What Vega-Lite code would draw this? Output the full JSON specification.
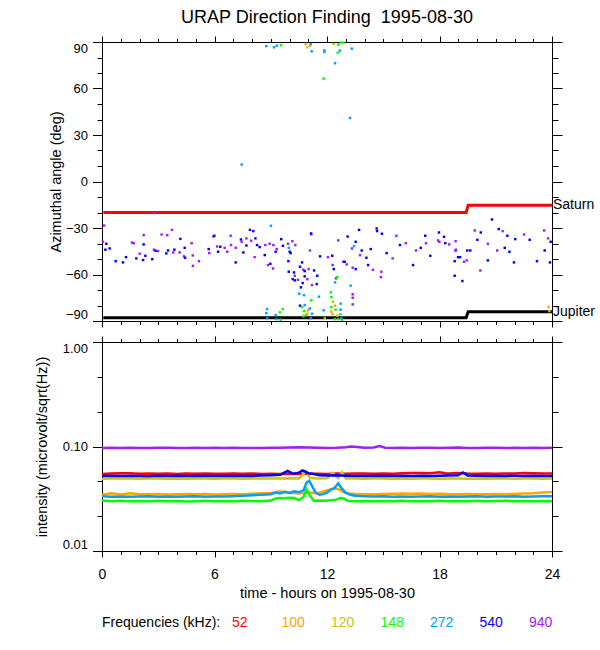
{
"$schema": "https://vega.github.io/schema/vega-lite/v6.json",
"background": "white",
"padding": {"left": 33, "top": 9, "right": 5, "bottom": 5},
"title": {"text": "URAP Direction Finding\u00a0\u00a01995-08-30", "fontSize": 18, "fontWeight": "normal", "font": "Liberation Sans", "color": "black", "anchor": "middle", "frame": "group", "offset": 8},
"bounds": "flush",
"spacing": 21,
"datasets": {
"planets": [
{"p":"Saturn","t":0.07,"a":-20.0},{"p":"Saturn","t":19.42,"a":-20.0},{"p":"Saturn","t":19.53,"a":-15.3},{"p":"Saturn","t":24,"a":-15.3},
{"p":"Jupiter","t":0.07,"a":-87.9},{"p":"Jupiter","t":19.42,"a":-87.9},{"p":"Jupiter","t":19.53,"a":-84.0},{"p":"Jupiter","t":24,"a":-84.0}
],
"points": [
{"t":8.76,"a":87.4,"f":"272"},{"t":9.17,"a":86.6,"f":"272"},{"t":9.32,"a":87.6,"f":"272"},{"t":9.55,"a":87.9,"f":"148"},
{"t":10.86,"a":88.7,"f":"100"},{"t":10.95,"a":86.6,"f":"120"},{"t":11.09,"a":87.6,"f":"100"},{"t":11.13,"a":88.7,"f":"272"},
{"t":11.18,"a":84.0,"f":"272"},{"t":11.86,"a":84.6,"f":"272"},{"t":11.86,"a":83.6,"f":"272"},{"t":12.36,"a":88.7,"f":"120"},
{"t":12.6,"a":88.3,"f":"148"},{"t":12.73,"a":89.6,"f":"148"},{"t":12.87,"a":89.6,"f":"148"},{"t":12.68,"a":84.4,"f":"272"},
{"t":12.57,"a":83.1,"f":"148"},{"t":13.32,"a":85.7,"f":"272"},{"t":12.43,"a":76.3,"f":"272"},{"t":11.82,"a":66.4,"f":"148"},
{"t":13.23,"a":41.0,"f":"272"},{"t":7.45,"a":10.9,"f":"272"},{"t":2.81,"a":-20.3,"f":"940"},
{"t":0.11,"a":-28.4,"f":"940"},{"t":0.05,"a":-38.9,"f":"940"},{"t":0.23,"a":-40.2,"f":"540"},{"t":0.18,"a":-44.0,"f":"540"},
{"t":0.41,"a":-43.2,"f":"540"},{"t":0.73,"a":-51.4,"f":"540"},{"t":1.12,"a":-52.2,"f":"540"},{"t":1.28,"a":-48.8,"f":"540"},
{"t":1.69,"a":-39.8,"f":"940"},{"t":1.6,"a":-39.4,"f":"940"},{"t":2.01,"a":-46.6,"f":"940"},{"t":1.83,"a":-49.6,"f":"540"},
{"t":2.22,"a":-34.6,"f":"940"},{"t":2.22,"a":-40.6,"f":"540"},{"t":2.19,"a":-50.7,"f":"540"},{"t":2.31,"a":-47.9,"f":"540"},
{"t":2.68,"a":-50.1,"f":"540"},{"t":2.77,"a":-44.0,"f":"940"},{"t":2.86,"a":-44.7,"f":"540"},{"t":2.99,"a":-44.9,"f":"940"},
{"t":3.18,"a":-34.2,"f":"940"},{"t":3.48,"a":-34.6,"f":"940"},{"t":3.52,"a":-44.5,"f":"540"},{"t":3.43,"a":-46.4,"f":"540"},
{"t":3.73,"a":-31.2,"f":"940"},{"t":3.8,"a":-45.8,"f":"940"},{"t":3.86,"a":-44.0,"f":"540"},{"t":4.14,"a":-45.8,"f":"940"},
{"t":4.18,"a":-37.0,"f":"540"},{"t":4.37,"a":-48.3,"f":"940"},{"t":4.43,"a":-49.2,"f":"540"},{"t":4.41,"a":-42.8,"f":"540"},
{"t":4.78,"a":-39.8,"f":"940"},{"t":4.84,"a":-47.7,"f":"940"},{"t":4.85,"a":-54.4,"f":"940"},{"t":5.17,"a":-51.4,"f":"940"},
{"t":5.69,"a":-43.6,"f":"540"},{"t":5.72,"a":-46.2,"f":"940"},{"t":6.19,"a":-45.3,"f":"540"},{"t":5.94,"a":-35.5,"f":"940"},
{"t":5.99,"a":-35.0,"f":"540"},{"t":6.14,"a":-41.9,"f":"940"},{"t":6.31,"a":-42.1,"f":"540"},{"t":6.54,"a":-42.8,"f":"940"},
{"t":6.68,"a":-45.3,"f":"940"},{"t":6.86,"a":-35.0,"f":"940"},{"t":6.88,"a":-41.0,"f":"940"},{"t":7.13,"a":-52.2,"f":"540"},
{"t":7.13,"a":-42.8,"f":"940"},{"t":7.41,"a":-37.4,"f":"540"},{"t":7.45,"a":-38.9,"f":"940"},{"t":7.54,"a":-45.8,"f":"540"},
{"t":7.7,"a":-36.7,"f":"940"},{"t":7.7,"a":-41.3,"f":"540"},{"t":7.96,"a":-38.2,"f":"940"},{"t":8.14,"a":-48.8,"f":"940"},
{"t":8.18,"a":-36.7,"f":"540"},{"t":7.89,"a":-31.2,"f":"540"},{"t":8.07,"a":-32.0,"f":"540"},{"t":8.27,"a":-41.0,"f":"540"},
{"t":8.41,"a":-42.3,"f":"540"},{"t":8.71,"a":-41.0,"f":"940"},{"t":8.68,"a":-47.5,"f":"540"},{"t":8.85,"a":-53.9,"f":"940"},
{"t":8.94,"a":-40.2,"f":"940"},{"t":8.98,"a":-53.1,"f":"540"},{"t":9.12,"a":-56.1,"f":"940"},{"t":9.14,"a":-41.0,"f":"940"},
{"t":9.26,"a":-45.3,"f":"540"},{"t":9.32,"a":-43.6,"f":"940"},{"t":9.56,"a":-37.2,"f":"540"},{"t":9.65,"a":-41.5,"f":"540"},
{"t":9.01,"a":-28.6,"f":"272"},{"t":9.92,"a":-40.2,"f":"940"},{"t":9.96,"a":-42.8,"f":"272"},{"t":10.01,"a":-45.3,"f":"540"},
{"t":10.06,"a":-46.2,"f":"540"},{"t":9.94,"a":-51.4,"f":"540"},{"t":9.96,"a":-58.2,"f":"540"},{"t":10.15,"a":-38.5,"f":"940"},
{"t":10.31,"a":-41.0,"f":"940"},{"t":10.24,"a":-58.7,"f":"540"},{"t":10.28,"a":-63.8,"f":"540"},{"t":10.17,"a":-63.0,"f":"540"},
{"t":10.28,"a":-60.8,"f":"940"},{"t":10.45,"a":-63.4,"f":"940"},{"t":10.56,"a":-55.0,"f":"540"},{"t":10.67,"a":-52.2,"f":"540"},
{"t":10.74,"a":-56.9,"f":"940"},{"t":10.81,"a":-57.8,"f":"540"},{"t":11.02,"a":-56.5,"f":"940"},{"t":10.81,"a":-61.2,"f":"540"},
{"t":10.61,"a":-68.3,"f":"540"},{"t":10.7,"a":-65.5,"f":"540"},{"t":11.16,"a":-34.0,"f":"940"},{"t":11.15,"a":-33.5,"f":"540"},
{"t":11.09,"a":-44.5,"f":"940"},{"t":11.31,"a":-57.4,"f":"540"},{"t":11.48,"a":-60.8,"f":"540"},{"t":11.45,"a":-66.2,"f":"540"},
{"t":11.2,"a":-66.8,"f":"940"},{"t":10.95,"a":-63.0,"f":"940"},{"t":11.63,"a":-48.3,"f":"540"},{"t":12.05,"a":-48.8,"f":"940"},
{"t":12.28,"a":-47.9,"f":"540"},{"t":12.3,"a":-53.9,"f":"940"},{"t":12.36,"a":-56.5,"f":"540"},{"t":12.48,"a":-62.5,"f":"940"},
{"t":12.55,"a":-61.7,"f":"148"},{"t":12.43,"a":-65.1,"f":"272"},{"t":12.6,"a":-38.0,"f":"940"},{"t":12.87,"a":-51.8,"f":"940"},
{"t":12.94,"a":-51.8,"f":"540"},{"t":13.05,"a":-53.5,"f":"940"},{"t":13.1,"a":-35.5,"f":"540"},{"t":13.33,"a":-43.2,"f":"940"},
{"t":13.37,"a":-55.6,"f":"940"},{"t":13.44,"a":-41.7,"f":"272"},{"t":13.53,"a":-56.5,"f":"540"},{"t":13.53,"a":-38.9,"f":"540"},
{"t":13.26,"a":-67.2,"f":"272"},{"t":13.37,"a":-72.8,"f":"940"},{"t":13.37,"a":-75.0,"f":"940"},{"t":13.37,"a":-79.3,"f":"940"},
{"t":13.71,"a":-31.2,"f":"540"},{"t":13.76,"a":-47.5,"f":"940"},{"t":13.85,"a":-44.5,"f":"540"},{"t":14.1,"a":-49.2,"f":"540"},
{"t":14.19,"a":-53.9,"f":"540"},{"t":14.33,"a":-43.6,"f":"540"},{"t":14.65,"a":-30.3,"f":"540"},{"t":14.67,"a":-32.0,"f":"540"},
{"t":14.45,"a":-57.0,"f":"940"},{"t":14.9,"a":-58.2,"f":"940"},{"t":14.88,"a":-61.7,"f":"940"},{"t":14.93,"a":-33.7,"f":"540"},
{"t":15.18,"a":-46.2,"f":"540"},{"t":15.5,"a":-49.6,"f":"940"},{"t":15.7,"a":-35.0,"f":"940"},{"t":15.89,"a":-41.0,"f":"540"},
{"t":16.2,"a":-39.8,"f":"940"},{"t":16.59,"a":-53.9,"f":"540"},{"t":16.75,"a":-44.5,"f":"940"},{"t":17.0,"a":-42.8,"f":"540"},
{"t":17.28,"a":-39.8,"f":"940"},{"t":17.24,"a":-35.0,"f":"540"},{"t":17.51,"a":-47.9,"f":"540"},{"t":17.92,"a":-38.0,"f":"940"},
{"t":17.97,"a":-32.9,"f":"540"},{"t":17.99,"a":-38.9,"f":"940"},{"t":18.24,"a":-35.7,"f":"540"},{"t":18.31,"a":-39.8,"f":"540"},
{"t":18.52,"a":-40.6,"f":"940"},{"t":18.81,"a":-51.4,"f":"540"},{"t":18.81,"a":-60.8,"f":"540"},{"t":18.86,"a":-44.5,"f":"540"},
{"t":18.86,"a":-38.5,"f":"940"},{"t":18.88,"a":-44.0,"f":"940"},{"t":18.99,"a":-48.8,"f":"540"},{"t":19.1,"a":-48.8,"f":"540"},
{"t":19.22,"a":-64.2,"f":"540"},{"t":19.31,"a":-51.8,"f":"940"},{"t":19.45,"a":-50.9,"f":"940"},{"t":19.48,"a":-44.5,"f":"540"},
{"t":19.64,"a":-44.5,"f":"540"},{"t":19.88,"a":-31.6,"f":"940"},{"t":20.02,"a":-37.6,"f":"540"},{"t":20.18,"a":-57.4,"f":"940"},
{"t":20.58,"a":-40.2,"f":"940"},{"t":20.8,"a":-24.5,"f":"540"},{"t":20.2,"a":-32.9,"f":"540"},{"t":20.58,"a":-50.9,"f":"540"},
{"t":21.37,"a":-32.0,"f":"940"},{"t":21.16,"a":-30.7,"f":"540"},{"t":21.62,"a":-35.0,"f":"540"},{"t":21.08,"a":-44.5,"f":"940"},
{"t":21.48,"a":-42.8,"f":"540"},{"t":21.73,"a":-45.3,"f":"540"},{"t":21.97,"a":-52.2,"f":"540"},{"t":22.04,"a":-37.2,"f":"540"},
{"t":22.51,"a":-34.2,"f":"940"},{"t":22.81,"a":-37.6,"f":"540"},{"t":23.2,"a":-51.4,"f":"540"},{"t":23.58,"a":-31.6,"f":"940"},
{"t":23.61,"a":-44.5,"f":"540"},{"t":23.79,"a":-36.7,"f":"940"},{"t":23.93,"a":-38.9,"f":"540"},{"t":23.89,"a":-52.2,"f":"540"},
{"t":8.8,"a":-82.3,"f":"272"},{"t":9.64,"a":-82.3,"f":"148"},{"t":9.49,"a":-84.4,"f":"148"},{"t":8.76,"a":-84.9,"f":"272"},
{"t":9.26,"a":-86.2,"f":"272"},{"t":9.3,"a":-88.8,"f":"272"},{"t":8.82,"a":-88.3,"f":"272"},{"t":9.53,"a":-89.2,"f":"148"},
{"t":10.52,"a":-72.4,"f":"272"},{"t":10.56,"a":-80.1,"f":"540"},{"t":10.77,"a":-73.3,"f":"272"},{"t":10.81,"a":-79.7,"f":"272"},
{"t":10.67,"a":-81.0,"f":"148"},{"t":10.77,"a":-83.6,"f":"148"},{"t":10.99,"a":-83.1,"f":"100"},{"t":11.08,"a":-81.9,"f":"272"},
{"t":11.2,"a":-85.3,"f":"272"},{"t":10.88,"a":-86.2,"f":"148"},{"t":10.74,"a":-87.0,"f":"148"},{"t":10.95,"a":-85.3,"f":"100"},
{"t":11.13,"a":-88.3,"f":"272"},{"t":11.16,"a":-76.7,"f":"148"},{"t":11.57,"a":-74.3,"f":"272"},{"t":11.82,"a":-83.1,"f":"272"},
{"t":12.2,"a":-71.5,"f":"148"},{"t":12.23,"a":-74.6,"f":"148"},{"t":12.32,"a":-77.6,"f":"120"},{"t":12.43,"a":-80.1,"f":"100"},
{"t":12.23,"a":-81.0,"f":"148"},{"t":12.46,"a":-82.7,"f":"148"},{"t":12.73,"a":-78.8,"f":"272"},{"t":12.73,"a":-82.7,"f":"272"},
{"t":12.23,"a":-84.0,"f":"100"},{"t":12.3,"a":-85.7,"f":"100"},{"t":12.71,"a":-85.7,"f":"148"},{"t":12.59,"a":-88.8,"f":"148"},
{"t":12.55,"a":-86.6,"f":"100"},{"t":12.8,"a":-89.2,"f":"148"},{"t":12.76,"a":-88.3,"f":"272"},{"t":11.88,"a":-88.3,"f":"120"},
{"t":12.41,"a":-88.8,"f":"148"},{"t":23.82,"a":-81.0,"f":"100"},{"t":23.86,"a":-83.6,"f":"100"}
],
"lines": [
{"f":"52","t":0,"v":0.0545},{"f":"52","t":0.5,"v":0.0552},{"f":"52","t":1,"v":0.0556},{"f":"52","t":1.5,"v":0.0554},{"f":"52","t":2,"v":0.055},{"f":"52","t":2.5,"v":0.0553},{"f":"52","t":3,"v":0.0548},{"f":"52","t":3.5,"v":0.0551},{"f":"52","t":4,"v":0.0547},{"f":"52","t":4.5,"v":0.0552},{"f":"52","t":5,"v":0.0549},{"f":"52","t":5.5,"v":0.0553},{"f":"52","t":6,"v":0.055},{"f":"52","t":6.5,"v":0.0548},{"f":"52","t":7,"v":0.0552},{"f":"52","t":7.5,"v":0.0549},{"f":"52","t":8,"v":0.0551},{"f":"52","t":8.5,"v":0.0547},{"f":"52","t":9,"v":0.055},{"f":"52","t":9.5,"v":0.0546},{"f":"52","t":10,"v":0.0549},{"f":"52","t":10.5,"v":0.0545},{"f":"52","t":11,"v":0.0548},{"f":"52","t":11.5,"v":0.055},{"f":"52","t":12,"v":0.0547},{"f":"52","t":12.5,"v":0.0551},{"f":"52","t":13,"v":0.0549},{"f":"52","t":13.5,"v":0.0553},{"f":"52","t":14,"v":0.0551},{"f":"52","t":14.5,"v":0.0548},{"f":"52","t":15,"v":0.0552},{"f":"52","t":15.5,"v":0.055},{"f":"52","t":16,"v":0.0554},{"f":"52","t":16.5,"v":0.0557},{"f":"52","t":17,"v":0.0559},{"f":"52","t":17.5,"v":0.0555},{"f":"52","t":18,"v":0.0568},{"f":"52","t":18.3,"v":0.0556},{"f":"52","t":18.5,"v":0.0553},{"f":"52","t":19,"v":0.0557},{"f":"52","t":19.5,"v":0.0552},{"f":"52","t":20,"v":0.055},{"f":"52","t":20.5,"v":0.0553},{"f":"52","t":21,"v":0.0549},{"f":"52","t":21.5,"v":0.0552},{"f":"52","t":22,"v":0.0551},{"f":"52","t":22.5,"v":0.0558},{"f":"52","t":23,"v":0.0556},{"f":"52","t":23.5,"v":0.0553},{"f":"52","t":24,"v":0.0552},
{"f":"100","t":0,"v":0.0345},{"f":"100","t":0.5,"v":0.0356},{"f":"100","t":1,"v":0.0348},{"f":"100","t":1.5,"v":0.0357},{"f":"100","t":2,"v":0.035},{"f":"100","t":2.5,"v":0.0349},{"f":"100","t":3,"v":0.0351},{"f":"100","t":3.5,"v":0.0348},{"f":"100","t":4,"v":0.035},{"f":"100","t":4.5,"v":0.0352},{"f":"100","t":5,"v":0.0349},{"f":"100","t":5.5,"v":0.0351},{"f":"100","t":6,"v":0.0348},{"f":"100","t":6.5,"v":0.035},{"f":"100","t":7,"v":0.0352},{"f":"100","t":7.5,"v":0.0349},{"f":"100","t":8,"v":0.0353},{"f":"100","t":8.5,"v":0.0356},{"f":"100","t":9,"v":0.0358},{"f":"100","t":9.5,"v":0.0372},{"f":"100","t":10,"v":0.036},{"f":"100","t":10.5,"v":0.0355},{"f":"100","t":11,"v":0.0362},{"f":"100","t":11.5,"v":0.0358},{"f":"100","t":12,"v":0.038},{"f":"100","t":12.3,"v":0.0395},{"f":"100","t":12.6,"v":0.0392},{"f":"100","t":12.9,"v":0.0365},{"f":"100","t":13.2,"v":0.0356},{"f":"100","t":13.5,"v":0.0352},{"f":"100","t":14,"v":0.035},{"f":"100","t":14.5,"v":0.0349},{"f":"100","t":15,"v":0.0351},{"f":"100","t":15.5,"v":0.0354},{"f":"100","t":16,"v":0.0355},{"f":"100","t":16.5,"v":0.0353},{"f":"100","t":17,"v":0.0355},{"f":"100","t":17.5,"v":0.0352},{"f":"100","t":18,"v":0.0354},{"f":"100","t":18.5,"v":0.0351},{"f":"100","t":19,"v":0.035},{"f":"100","t":19.5,"v":0.0352},{"f":"100","t":20,"v":0.035},{"f":"100","t":20.5,"v":0.0349},{"f":"100","t":21,"v":0.0351},{"f":"100","t":21.5,"v":0.035},{"f":"100","t":22,"v":0.0352},{"f":"100","t":22.5,"v":0.0355},{"f":"100","t":23,"v":0.0357},{"f":"100","t":23.5,"v":0.0362},{"f":"100","t":24,"v":0.0366},
{"f":"120","t":0,"v":0.0492},{"f":"120","t":0.5,"v":0.0494},{"f":"120","t":1,"v":0.0493},{"f":"120","t":1.5,"v":0.0495},{"f":"120","t":2,"v":0.0492},{"f":"120","t":2.5,"v":0.0494},{"f":"120","t":3,"v":0.0493},{"f":"120","t":3.5,"v":0.0491},{"f":"120","t":4,"v":0.0494},{"f":"120","t":4.5,"v":0.0492},{"f":"120","t":5,"v":0.0495},{"f":"120","t":5.5,"v":0.0493},{"f":"120","t":6,"v":0.0492},{"f":"120","t":6.5,"v":0.0494},{"f":"120","t":7,"v":0.0493},{"f":"120","t":7.5,"v":0.0491},{"f":"120","t":8,"v":0.0494},{"f":"120","t":8.5,"v":0.0493},{"f":"120","t":9,"v":0.0495},{"f":"120","t":9.5,"v":0.0493},{"f":"120","t":10,"v":0.0496},{"f":"120","t":10.5,"v":0.0494},{"f":"120","t":10.9,"v":0.058},{"f":"120","t":11.1,"v":0.05},{"f":"120","t":11.5,"v":0.0494},{"f":"120","t":12,"v":0.0496},{"f":"120","t":12.3,"v":0.056},{"f":"120","t":12.6,"v":0.0498},{"f":"120","t":12.8,"v":0.0565},{"f":"120","t":13,"v":0.0495},{"f":"120","t":13.5,"v":0.0493},{"f":"120","t":14,"v":0.0492},{"f":"120","t":14.5,"v":0.0494},{"f":"120","t":15,"v":0.0493},{"f":"120","t":15.5,"v":0.0491},{"f":"120","t":16,"v":0.0494},{"f":"120","t":16.5,"v":0.0492},{"f":"120","t":17,"v":0.0493},{"f":"120","t":17.5,"v":0.0495},{"f":"120","t":18,"v":0.0492},{"f":"120","t":18.5,"v":0.0494},{"f":"120","t":19,"v":0.0493},{"f":"120","t":19.5,"v":0.0491},{"f":"120","t":20,"v":0.0494},{"f":"120","t":20.5,"v":0.0492},{"f":"120","t":21,"v":0.0493},{"f":"120","t":21.5,"v":0.0495},{"f":"120","t":22,"v":0.0492},{"f":"120","t":22.5,"v":0.0494},{"f":"120","t":23,"v":0.0493},{"f":"120","t":23.5,"v":0.0492},{"f":"120","t":24,"v":0.0494},
{"f":"148","t":0,"v":0.0305},{"f":"148","t":0.5,"v":0.03},{"f":"148","t":1,"v":0.0302},{"f":"148","t":1.5,"v":0.0299},{"f":"148","t":2,"v":0.0301},{"f":"148","t":2.5,"v":0.03},{"f":"148","t":3,"v":0.0302},{"f":"148","t":3.5,"v":0.0299},{"f":"148","t":4,"v":0.0301},{"f":"148","t":4.5,"v":0.0298},{"f":"148","t":5,"v":0.03},{"f":"148","t":5.5,"v":0.0302},{"f":"148","t":6,"v":0.0299},{"f":"148","t":6.5,"v":0.0301},{"f":"148","t":7,"v":0.03},{"f":"148","t":7.5,"v":0.0302},{"f":"148","t":8,"v":0.0301},{"f":"148","t":8.5,"v":0.0299},{"f":"148","t":9,"v":0.0304},{"f":"148","t":9.25,"v":0.0318},{"f":"148","t":9.5,"v":0.0322},{"f":"148","t":9.75,"v":0.032},{"f":"148","t":10,"v":0.0323},{"f":"148","t":10.25,"v":0.0321},{"f":"148","t":10.5,"v":0.0305},{"f":"148","t":10.75,"v":0.033},{"f":"148","t":10.9,"v":0.039},{"f":"148","t":11.1,"v":0.0335},{"f":"148","t":11.3,"v":0.0302},{"f":"148","t":11.6,"v":0.0304},{"f":"148","t":11.9,"v":0.0303},{"f":"148","t":12.2,"v":0.0306},{"f":"148","t":12.5,"v":0.031},{"f":"148","t":12.7,"v":0.0322},{"f":"148","t":12.9,"v":0.0318},{"f":"148","t":13.1,"v":0.0302},{"f":"148","t":13.5,"v":0.03},{"f":"148","t":14,"v":0.0301},{"f":"148","t":14.5,"v":0.0299},{"f":"148","t":15,"v":0.0301},{"f":"148","t":15.5,"v":0.03},{"f":"148","t":16,"v":0.0302},{"f":"148","t":16.5,"v":0.0299},{"f":"148","t":17,"v":0.0301},{"f":"148","t":17.5,"v":0.03},{"f":"148","t":18,"v":0.0302},{"f":"148","t":18.5,"v":0.0299},{"f":"148","t":19,"v":0.0301},{"f":"148","t":19.5,"v":0.03},{"f":"148","t":20,"v":0.0302},{"f":"148","t":20.5,"v":0.0299},{"f":"148","t":21,"v":0.0301},{"f":"148","t":21.5,"v":0.0302},{"f":"148","t":22,"v":0.03},{"f":"148","t":22.5,"v":0.0301},{"f":"148","t":23,"v":0.0299},{"f":"148","t":23.5,"v":0.0301},{"f":"148","t":24,"v":0.03},
{"f":"272","t":0,"v":0.0334},{"f":"272","t":0.5,"v":0.0331},{"f":"272","t":1,"v":0.0333},{"f":"272","t":1.5,"v":0.033},{"f":"272","t":2,"v":0.0332},{"f":"272","t":2.5,"v":0.0334},{"f":"272","t":3,"v":0.0331},{"f":"272","t":3.5,"v":0.0333},{"f":"272","t":4,"v":0.033},{"f":"272","t":4.5,"v":0.0332},{"f":"272","t":5,"v":0.0334},{"f":"272","t":5.5,"v":0.0331},{"f":"272","t":6,"v":0.0333},{"f":"272","t":6.5,"v":0.0332},{"f":"272","t":7,"v":0.0335},{"f":"272","t":7.5,"v":0.0338},{"f":"272","t":8,"v":0.0342},{"f":"272","t":8.5,"v":0.0345},{"f":"272","t":9,"v":0.035},{"f":"272","t":9.25,"v":0.0362},{"f":"272","t":9.5,"v":0.0355},{"f":"272","t":9.75,"v":0.0368},{"f":"272","t":10,"v":0.036},{"f":"272","t":10.25,"v":0.0372},{"f":"272","t":10.5,"v":0.0365},{"f":"272","t":10.75,"v":0.038},{"f":"272","t":10.9,"v":0.045},{"f":"272","t":11.05,"v":0.047},{"f":"272","t":11.2,"v":0.042},{"f":"272","t":11.4,"v":0.036},{"f":"272","t":11.6,"v":0.0345},{"f":"272","t":11.8,"v":0.035},{"f":"272","t":12,"v":0.0362},{"f":"272","t":12.2,"v":0.0385},{"f":"272","t":12.4,"v":0.04},{"f":"272","t":12.6,"v":0.0445},{"f":"272","t":12.8,"v":0.0395},{"f":"272","t":13,"v":0.036},{"f":"272","t":13.25,"v":0.0345},{"f":"272","t":13.5,"v":0.0338},{"f":"272","t":14,"v":0.0335},{"f":"272","t":14.5,"v":0.0332},{"f":"272","t":15,"v":0.0334},{"f":"272","t":15.5,"v":0.0331},{"f":"272","t":16,"v":0.0333},{"f":"272","t":16.5,"v":0.033},{"f":"272","t":17,"v":0.0332},{"f":"272","t":17.5,"v":0.0334},{"f":"272","t":18,"v":0.0331},{"f":"272","t":18.5,"v":0.0333},{"f":"272","t":19,"v":0.033},{"f":"272","t":19.5,"v":0.0332},{"f":"272","t":20,"v":0.0334},{"f":"272","t":20.5,"v":0.0331},{"f":"272","t":21,"v":0.0333},{"f":"272","t":21.5,"v":0.0332},{"f":"272","t":22,"v":0.0334},{"f":"272","t":22.5,"v":0.0331},{"f":"272","t":23,"v":0.0333},{"f":"272","t":23.5,"v":0.0335},{"f":"272","t":24,"v":0.0334},
{"f":"540","t":0,"v":0.0522},{"f":"540","t":0.5,"v":0.0525},{"f":"540","t":1,"v":0.0521},{"f":"540","t":1.5,"v":0.0526},{"f":"540","t":2,"v":0.0523},{"f":"540","t":2.5,"v":0.052},{"f":"540","t":3,"v":0.0524},{"f":"540","t":3.5,"v":0.0522},{"f":"540","t":4,"v":0.0525},{"f":"540","t":4.5,"v":0.0521},{"f":"540","t":5,"v":0.0523},{"f":"540","t":5.5,"v":0.0526},{"f":"540","t":6,"v":0.0522},{"f":"540","t":6.5,"v":0.0524},{"f":"540","t":7,"v":0.0521},{"f":"540","t":7.5,"v":0.0525},{"f":"540","t":8,"v":0.0523},{"f":"540","t":8.5,"v":0.0527},{"f":"540","t":9,"v":0.053},{"f":"540","t":9.5,"v":0.0536},{"f":"540","t":9.9,"v":0.0585},{"f":"540","t":10.2,"v":0.0548},{"f":"540","t":10.5,"v":0.0562},{"f":"540","t":10.7,"v":0.059},{"f":"540","t":11,"v":0.0555},{"f":"540","t":11.3,"v":0.0545},{"f":"540","t":11.6,"v":0.0532},{"f":"540","t":12,"v":0.0528},{"f":"540","t":12.5,"v":0.0531},{"f":"540","t":13,"v":0.0526},{"f":"540","t":13.5,"v":0.0523},{"f":"540","t":14,"v":0.0525},{"f":"540","t":14.5,"v":0.0522},{"f":"540","t":15,"v":0.0524},{"f":"540","t":15.5,"v":0.0521},{"f":"540","t":16,"v":0.0525},{"f":"540","t":16.5,"v":0.0523},{"f":"540","t":17,"v":0.0526},{"f":"540","t":17.5,"v":0.0522},{"f":"540","t":18,"v":0.0524},{"f":"540","t":18.5,"v":0.0527},{"f":"540","t":19,"v":0.053},{"f":"540","t":19.25,"v":0.0565},{"f":"540","t":19.5,"v":0.0528},{"f":"540","t":20,"v":0.0524},{"f":"540","t":20.5,"v":0.0522},{"f":"540","t":21,"v":0.0525},{"f":"540","t":21.5,"v":0.0523},{"f":"540","t":22,"v":0.0526},{"f":"540","t":22.5,"v":0.0522},{"f":"540","t":23,"v":0.0524},{"f":"540","t":23.5,"v":0.0521},{"f":"540","t":24,"v":0.0523},
{"f":"940","t":0,"v":0.0968},{"f":"940","t":0.5,"v":0.0972},{"f":"940","t":1,"v":0.0966},{"f":"940","t":1.5,"v":0.0974},{"f":"940","t":2,"v":0.097},{"f":"940","t":2.5,"v":0.0967},{"f":"940","t":3,"v":0.0972},{"f":"940","t":3.5,"v":0.0975},{"f":"940","t":4,"v":0.0968},{"f":"940","t":4.5,"v":0.097},{"f":"940","t":5,"v":0.0973},{"f":"940","t":5.5,"v":0.0966},{"f":"940","t":6,"v":0.0971},{"f":"940","t":6.5,"v":0.0969},{"f":"940","t":7,"v":0.0974},{"f":"940","t":7.5,"v":0.0968},{"f":"940","t":8,"v":0.097},{"f":"940","t":8.5,"v":0.0966},{"f":"940","t":9,"v":0.0971},{"f":"940","t":9.5,"v":0.0975},{"f":"940","t":10,"v":0.0978},{"f":"940","t":10.5,"v":0.0982},{"f":"940","t":11,"v":0.0976},{"f":"940","t":11.5,"v":0.0972},{"f":"940","t":12,"v":0.0969},{"f":"940","t":12.5,"v":0.0974},{"f":"940","t":13,"v":0.0985},{"f":"940","t":13.3,"v":0.1002},{"f":"940","t":13.6,"v":0.0988},{"f":"940","t":14,"v":0.0972},{"f":"940","t":14.5,"v":0.0978},{"f":"940","t":14.8,"v":0.1008},{"f":"940","t":15.1,"v":0.0975},{"f":"940","t":15.5,"v":0.097},{"f":"940","t":16,"v":0.0973},{"f":"940","t":16.5,"v":0.0968},{"f":"940","t":17,"v":0.0971},{"f":"940","t":17.5,"v":0.0975},{"f":"940","t":18,"v":0.0969},{"f":"940","t":18.5,"v":0.0972},{"f":"940","t":19,"v":0.0976},{"f":"940","t":19.5,"v":0.097},{"f":"940","t":20,"v":0.0967},{"f":"940","t":20.5,"v":0.0972},{"f":"940","t":21,"v":0.0974},{"f":"940","t":21.5,"v":0.0969},{"f":"940","t":22,"v":0.0971},{"f":"940","t":22.5,"v":0.0966},{"f":"940","t":23,"v":0.0973},{"f":"940","t":23.5,"v":0.097},{"f":"940","t":24,"v":0.0975}
]
},
"vconcat": [
{
"width": 450, "height": 279,
"resolve": {"axis": {"x": "independent", "y": "independent"}},
"layer": [
{
"data": {"name": "planets"},
"mark": {"type": "line", "strokeWidth": 3},
"encoding": {
"x": {"field": "t", "type": "quantitative", "scale": {"domain": [0, 24], "nice": false, "zero": false},
 "axis": {"orient": "bottom", "values": [0,1,2,3,4,5,6,7,8,9,10,11,12,13,14,15,16,17,18,19,20,21,22,23,24], "tickSize": {"condition": {"test": "datum.value % 6 === 0", "value": 6}, "value": 3.5}, "labels": false, "title": null}},
"y": {"field": "a", "type": "quantitative", "scale": {"domain": [-90, 90], "nice": false, "zero": false},
 "axis": {"orient": "left", "values": [-90,-80,-70,-60,-50,-40,-30,-20,-10,0,10,20,30,40,50,60,70,80,90], "tickSize": {"condition": {"test": "datum.value % 30 === 0", "value": 9.5}, "value": 5}, "labelExpr": "datum.value % 30 === 0 ? datum.label : ''", "labelFlush": true, "labelPadding": 5, "title": "Azimuthal angle (deg)", "titlePadding": 2}},
"stroke": {"field": "p", "type": "nominal", "scale": {"domain": ["Saturn", "Jupiter"], "range": ["#ff0000", "#000000"]}, "legend": null}
}
},
{
"data": {"name": "points"},
"mark": {"type": "square", "size": 6, "opacity": 1},
"encoding": {
"x": {"field": "t", "type": "quantitative",
 "axis": {"orient": "top", "values": [0,1,2,3,4,5,6,7,8,9,10,11,12,13,14,15,16,17,18,19,20,21,22,23,24], "tickSize": {"condition": {"test": "datum.value % 6 === 0", "value": 6}, "value": 3.5}, "labels": false, "title": null}},
"y": {"field": "a", "type": "quantitative",
 "axis": {"orient": "right", "values": [-90,-80,-70,-60,-50,-40,-30,-20,-10,0,10,20,30,40,50,60,70,80,90], "tickSize": {"condition": {"test": "datum.value % 30 === 0", "value": 10}, "value": 6}, "labels": false, "title": null}},
"color": {"field": "f", "type": "nominal",
 "scale": {"domain": ["52","100","120","148","272","540","940"], "range": ["#ff0000","#ffa500","#c8c800","#00ff00","#00a0ff","#0000ff","#a020f0"]},
 "legend": {"title": "Frequencies (kHz):", "orient": "none", "legendX": 0, "legendY": 574, "direction": "horizontal", "columns": 7, "titleOrient": "left", "titleFontSize": 14, "titleFontWeight": "normal", "titleColor": "black", "titleFont": "Liberation Sans", "titlePadding": -3, "labelFontSize": 14, "labelFont": "Liberation Sans", "symbolSize": 0, "symbolOpacity": 0, "symbolStrokeWidth": 0, "labelOffset": 0, "gridAlign": "all", "columnPadding": 11.5,
  "encode": {"labels": {"update": {"fill": {"scale": "color", "field": "value"}}}}}}
}
},
{
"data": {"name": "planets"},
"transform": [{"filter": "datum.t == 24"}],
"mark": {"type": "text", "align": "left", "baseline": "middle", "dx": 1, "fontSize": 14, "font": "Liberation Sans", "color": "black"},
"encoding": {
"x": {"field": "t", "type": "quantitative", "axis": null},
"y": {"field": "a", "type": "quantitative", "axis": null},
"text": {"field": "p"}
}
}
]
},
{
"width": 450, "height": 209,
"resolve": {"axis": {"x": "independent", "y": "independent"}},
"layer": [
{
"data": {"name": "lines"},
"transform": [{"filter": "datum.f != '940'"}],
"mark": {"type": "line", "strokeWidth": 2.5},
"encoding": {
"x": {"field": "t", "type": "quantitative", "scale": {"domain": [0, 24], "nice": false, "zero": false},
 "axis": {"orient": "bottom", "values": [0,1,2,3,4,5,6,7,8,9,10,11,12,13,14,15,16,17,18,19,20,21,22,23,24], "tickSize": {"condition": {"test": "datum.value % 6 === 0", "value": 6}, "value": 3.5}, "labelExpr": "datum.value % 6 === 0 ? datum.label : ''", "labelFlush": false, "labelFontSize": 14, "labelPadding": 10, "title": "time - hours on 1995-08-30", "titlePadding": 5}},
"y": {"field": "v", "type": "quantitative", "scale": {"type": "log", "domain": [0.01, 1], "nice": false},
 "axis": {"orient": "left", "values": [0.01,0.0215443,0.0464159,0.1,0.215443,0.464159,1], "tickSize": {"condition": {"test": "datum.value === 0.01 || datum.value === 0.1 || datum.value === 1", "value": 9.5}, "value": 5}, "labelExpr": "(datum.value === 0.01 || datum.value === 0.1 || datum.value === 1) ? format(datum.value, '.2f') : ''", "labelFlush": true, "labelPadding": 5, "title": "intensity (microvolt/sqrt(Hz))", "titlePadding": 13}},
"color": {"field": "f", "type": "nominal"}
}
},
{
"data": {"name": "lines"},
"transform": [{"filter": "datum.f == '940'"}],
"mark": {"type": "line", "strokeWidth": 2.5},
"encoding": {
"x": {"field": "t", "type": "quantitative",
 "axis": {"orient": "top", "values": [0,1,2,3,4,5,6,7,8,9,10,11,12,13,14,15,16,17,18,19,20,21,22,23,24], "tickSize": {"condition": {"test": "datum.value % 6 === 0", "value": 6}, "value": 3.5}, "labels": false, "title": null}},
"y": {"field": "v", "type": "quantitative",
 "axis": {"orient": "right", "values": [0.01,0.0215443,0.0464159,0.1,0.215443,0.464159,1], "tickSize": {"condition": {"test": "datum.value === 0.01 || datum.value === 0.1 || datum.value === 1", "value": 10}, "value": 6}, "labels": false, "title": null}},
"color": {"field": "f", "type": "nominal"}
}
}
]
}
],
"resolve": {"scale": {"color": "shared"}},
"config": {
"font": "Liberation Sans",
"view": {"stroke": "black", "strokeWidth": 1},
"axis": {"grid": false, "domainColor": "black", "domainWidth": 1, "tickColor": "black", "tickWidth": 1, "labelColor": "black", "titleColor": "black", "labelFont": "Liberation Sans", "titleFont": "Liberation Sans", "labelFontSize": 13, "titleFontSize": 14.5, "titleFontWeight": "normal", "labelOverlap": false, "labelBound": false}
}
}
